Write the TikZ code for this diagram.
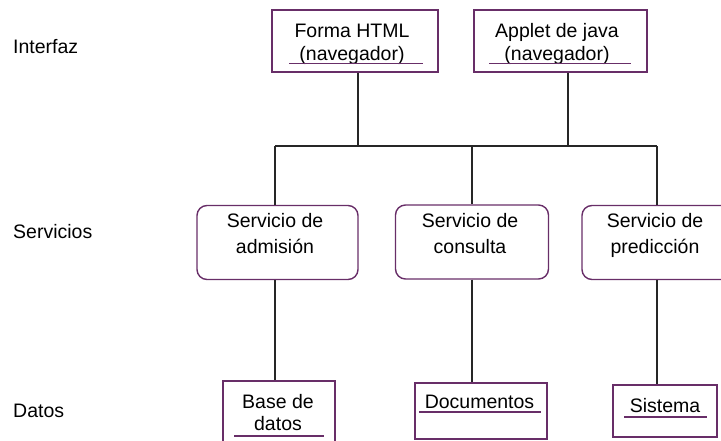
\documentclass[tikz,border=0pt]{standalone}
\usepackage{fontspec}
\setmainfont{Liberation Sans}
\usetikzlibrary{positioning}
\definecolor{boxpurple}{RGB}{104,46,104}

\begin{document}
\begin{tikzpicture}[x=1pt, y=-1pt]
  \tikzstyle{ifbox} = [rectangle, draw=boxpurple, line width=1.4pt, minimum height=62pt, inner sep=0pt]
  \tikzstyle{svbox} = [rectangle, rounded corners=10pt, draw=boxpurple, line width=1.4pt, minimum height=74pt, inner sep=0pt]
  \tikzstyle{dbox} = [rectangle, draw=boxpurple, line width=1.4pt, inner sep=0pt]
  \tikzstyle{txt} = [align=center, inner sep=0pt, anchor=base, font=\fontsize{19.5}{23}\selectfont]
  \tikzstyle{layer} = [inner sep=0pt, anchor=base west, font=\fontsize{19.5}{24}\selectfont]
  \tikzstyle{uline} = [boxpurple, line width=1.4pt]
  \tikzstyle{link} = [line width=1.2pt, black!85]

  \useasboundingbox (0,0) rectangle (721,440);
  \clip (0,0) rectangle (721,440);

  % capas
  \node[layer] (interfaz) at (13,53) {Interfaz};
  \node[layer] (servicios) at (13,238) {Servicios};
  \node[layer] (datos) at (13,417) {Datos};

  % interfaz (base = last line)
  \node[ifbox, minimum width=166pt] (forma) at (355,41) {};
  \node[ifbox, minimum width=173pt] (applet) at (560.5,41) {};
  \node[txt] (formaT) at (352,60) {Forma HTML\\(navegador)};
  \node[txt] (appletT) at (557,60) {Applet de java\\(navegador)};
  \draw[uline] ([xshift=18pt,yshift=9pt]forma.south west) -- ([xshift=-16pt,yshift=9pt]forma.south east);
  \draw[uline] ([xshift=16pt,yshift=9pt]applet.south west) -- ([xshift=-17pt,yshift=9pt]applet.south east);

  % servicios
  \node[svbox, minimum width=161pt] (adm) at (277.5,242.5) {};
  \node[svbox, minimum width=153pt] (cons) at (472,242) {};
  \node[svbox, minimum width=150pt] (pred) at (657,242.5) {};
  \node[txt, font=\fontsize{19.5}{26}\selectfont] (admT) at (275,253) {Servicio de\\admisión};
  \node[txt, font=\fontsize{19.5}{26}\selectfont] (consT) at (470,253) {Servicio de\\consulta};
  \node[txt, font=\fontsize{19.5}{26}\selectfont] (predT) at (655,253) {Servicio de\\predicción};

  % datos
  \node[dbox, minimum width=112pt, minimum height=67pt] (base) at (279,414.5) {};
  \node[dbox, minimum width=132pt, minimum height=56pt] (docs) at (481,411) {};
  \node[dbox, minimum width=104pt, minimum height=52pt] (sist) at (665,411) {};
  \node[txt, font=\fontsize{19.5}{22}\selectfont] (baseT) at (278,430) {Base de\\datos};
  \node[txt] (docsT) at (479.5,408) {Documentos};
  \node[txt] (sistT) at (665,412) {Sistema};
  \draw[uline] ([xshift=12pt]base.west |- 0,436) -- ([xshift=-12pt]base.east |- 0,436);
  \draw[uline] ([xshift=5pt,yshift=-4pt]docs.west |- docsT.base) -- ([xshift=-7pt,yshift=-4pt]docs.east |- docsT.base);
  \draw[uline] ([xshift=12pt,yshift=-5pt]sist.west |- sistT.base) -- ([xshift=-11pt,yshift=-5pt]sist.east |- sistT.base);

  % conexiones
  \coordinate (busL) at (275,146);
  \coordinate (busR) at (657,146);
  \draw[link] (busL) -- (busR);
  \draw[link] ([xshift=3pt]forma.south) -- ([xshift=3pt]forma.south |- busL);
  \draw[link] ([xshift=7.5pt]applet.south) -- ([xshift=7.5pt]applet.south |- busL);
  \draw[link] (busL) -- (adm.north -| busL);
  \draw[link] (cons.north |- busL) -- (cons.north);
  \draw[link] (busR) -- (pred.north);
  \draw[link] (adm.south -| busL) -- (base.north -| busL);
  \draw[link] (cons.south) -- (cons.south |- docs.north);
  \draw[link] (pred.south) -- (pred.south |- sist.north);
\end{tikzpicture}
\end{document}
